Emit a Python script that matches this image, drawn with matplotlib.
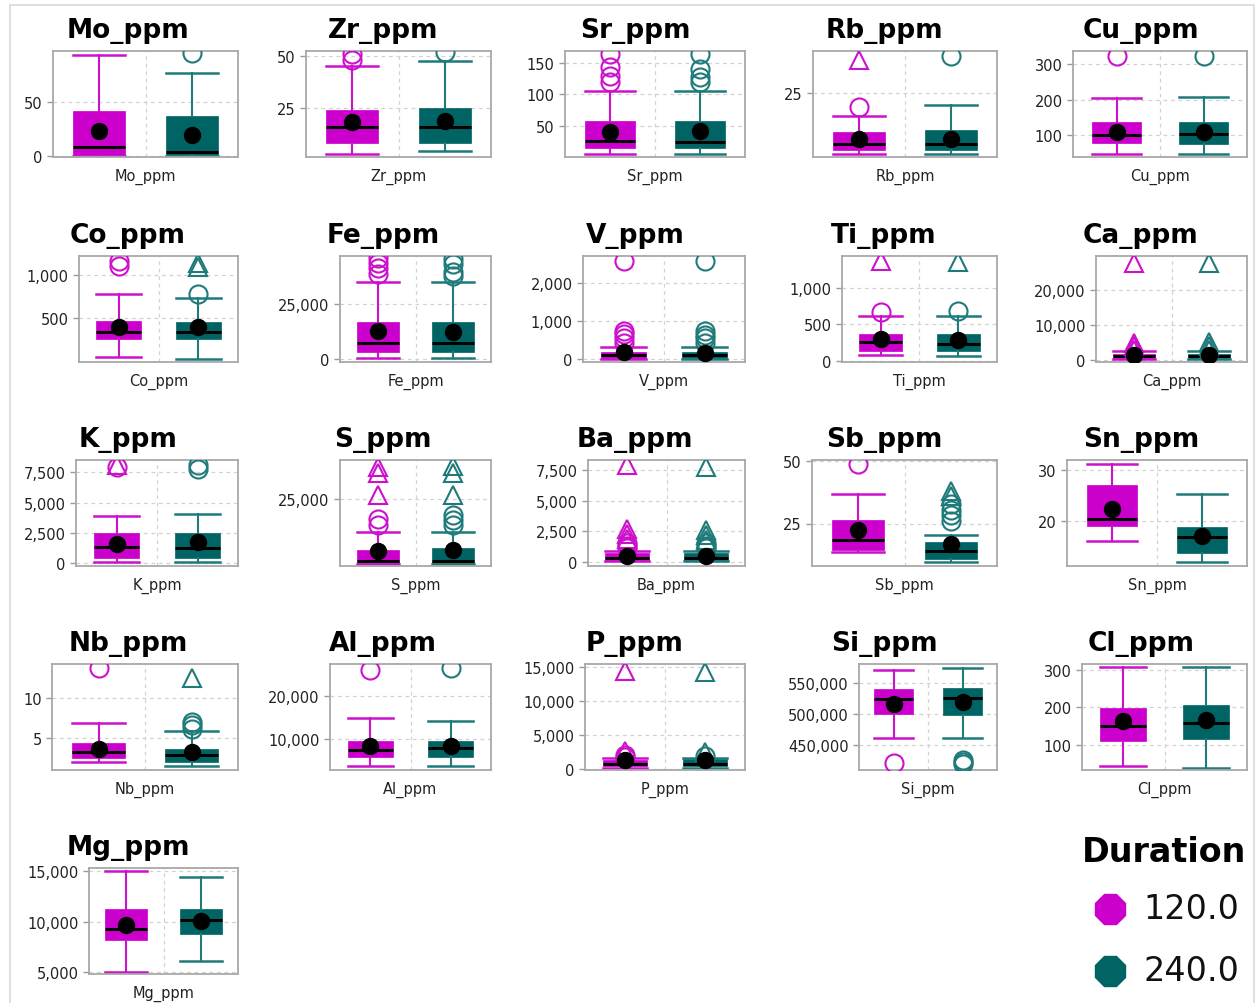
import numpy as np
import matplotlib
matplotlib.use('Agg')
import matplotlib.pyplot as plt
from matplotlib.ticker import FuncFormatter

W, H = 1258, 1004

ELEMENTS = ['Mo_ppm', 'Zr_ppm', 'Sr_ppm', 'Rb_ppm', 'Cu_ppm',
            'Co_ppm', 'Fe_ppm', 'V_ppm', 'Ti_ppm', 'Ca_ppm',
            'K_ppm', 'S_ppm', 'Ba_ppm', 'Sb_ppm', 'Sn_ppm',
            'Nb_ppm', 'Al_ppm', 'P_ppm', 'Si_ppm', 'Cl_ppm',
            'Mg_ppm']
DURATIONS = ['120.0', '240.0']

# box statistics, Duration = 120
LOW_120  = [0, 3.2, 5.3, 4.3, 47, 50, 600, 20, 80, 100, 140, 50, 20, 13.6, 16.1, 1.99, 3800, 100, 462000, 43, 5000]
Q1_120   = [0.5, 8.3, 14.3, 5.7, 78, 258, 3400, 40, 140, 400, 470, 400, 150, 14.4, 19.0, 2.5, 5700, 350, 501000, 111, 8230]
MED_120  = [8, 15.9, 25.9, 7.7, 100, 340, 7400, 110, 260, 900, 1360, 900, 320, 18.3, 20.4, 3.25, 7500, 700, 524000, 151, 9330]
Q3_120   = [42, 24.1, 56.7, 11.7, 136, 470, 16800, 195, 365, 1700, 2520, 5400, 725, 26.6, 27.1, 4.45, 9550, 1300, 541000, 197, 11230]
HIGH_120 = [94, 45.6, 105.9, 17, 203, 780, 35000, 330, 620, 2600, 3900, 12200, 850, 37, 31.2, 6.9, 14900, 1500, 572000, 308, 15000]
MEAN_120 = [23, 18.5, 39.7, 9.3, 108, 400, 12700, 180, 295, 1200, 1580, 5000, 510, 22.3, 22.4, 3.65, 8250, 1200, 517000, 162, 9660]

# box statistics, Duration = 240
LOW_240  = [0, 4.5, 5.3, 4.3, 47, 25, 600, 20, 65, 100, 140, 50, 20, 9.7, 11.8, 1.5, 3800, 100, 462000, 38, 6100]
Q1_240   = [0.5, 8.3, 14.3, 5.7, 75, 258, 3400, 40, 140, 400, 420, 400, 150, 10.9, 13.7, 2.0, 5800, 350, 499000, 116, 8830]
MED_240  = [4, 15.9, 23.3, 7.7, 103, 340, 7400, 110, 235, 900, 1250, 900, 320, 14.2, 16.9, 2.85, 7900, 700, 526000, 157, 10160]
Q3_240   = [37, 25, 56.7, 12.3, 136, 457, 16800, 190, 365, 1700, 2520, 6000, 725, 17.5, 18.8, 3.6, 9550, 1400, 543000, 205, 11230]
HIGH_240 = [77, 48, 105.9, 20.7, 206, 727, 35000, 330, 620, 2600, 4040, 12200, 850, 20.4, 25.3, 5.9, 14100, 1600, 574000, 308, 14460]
MEAN_240 = [20, 18.8, 40.7, 9.3, 108, 400, 12500, 175, 290, 1200, 1720, 5400, 510, 16.8, 17.1, 3.2, 8350, 1200, 520000, 165, 10060]

# outliers (open circles / open triangles)
CIRC_120 = {'Zr_ppm': [48.3, 51.2], 'Sr_ppm': [120, 129.7, 144, 165], 'Rb_ppm': [20],
            'Cu_ppm': [322], 'Co_ppm': [1100, 1160], 'Fe_ppm': [38700, 41200, 43400, 45700],
            'V_ppm': [420, 560, 650, 740, 2570], 'Ti_ppm': [670], 'K_ppm': [7900],
            'S_ppm': [14900, 17400], 'Ba_ppm': [1100, 1300, 1500], 'Sb_ppm': [48.8],
            'Nb_ppm': [13.8], 'Al_ppm': [26000], 'P_ppm': [1700, 2000], 'Si_ppm': [422000]}
TRI_120 = {'Rb_ppm': [36], 'Ti_ppm': [1360], 'Ca_ppm': [2800, 3800, 4800, 28000],
           'K_ppm': [8100], 'S_ppm': [26500, 34800, 37300],
           'Ba_ppm': [1900, 2300, 2700, 7900], 'P_ppm': [2600, 14350]}
CIRC_240 = {'Mo_ppm': [96], 'Zr_ppm': [52], 'Sr_ppm': [120, 128, 139.7, 165], 'Rb_ppm': [37.2],
            'Cu_ppm': [322], 'Co_ppm': [780], 'Fe_ppm': [37800, 39500, 43000, 45500],
            'V_ppm': [430, 560, 640, 730, 2580], 'Ti_ppm': [680], 'K_ppm': [7800, 8100],
            'S_ppm': [14900, 16800, 18800], 'Ba_ppm': [1100, 1300, 1500],
            'Sb_ppm': [25.9, 28.5, 30.6, 32.8], 'Nb_ppm': [6.2, 6.6, 7.0],
            'Al_ppm': [26500], 'P_ppm': [1900], 'Si_ppm': [420000, 423000, 426000]}
TRI_240 = {'Co_ppm': [1090, 1140], 'Ti_ppm': [1350], 'Ca_ppm': [2900, 3900, 5200, 27800],
           'S_ppm': [26500, 35000, 37700], 'Ba_ppm': [1800, 2200, 2600, 7800],
           'Sb_ppm': [35.9, 38.0], 'Nb_ppm': [12.6], 'P_ppm': [2500, 14200]}

# axis ranges and ticks per panel
Y_LIM = [(-1, 98), (1.6, 52.6), (0, 169), (3.3, 39), (39, 336),
         (-8, 1215), (-1200, 46700), (-70, 2700), (-15, 1435), (-700, 29900),
         (-220, 8500), (-870, 40000), (-350, 8350), (8, 50.4), (11.1, 32),
         (1.0, 14.3), (2750, 27500), (-200, 15400), (410000, 581000), (32, 316),
         (4830, 15330)]
Y_TICKS = [[0, 50], [25, 50], [50, 100, 150], [25], [100, 200, 300],
           [500, 1000], [0, 25000], [0, 1000, 2000], [0, 500, 1000], [0, 10000, 20000],
           [0, 2500, 5000, 7500], [25000], [0, 2500, 5000, 7500], [25, 50], [20, 30],
           [5, 10], [10000, 20000], [0, 5000, 10000, 15000], [450000, 500000, 550000], [100, 200, 300],
           [5000, 10000, 15000]]

# panel frames in pixels
FRAME_LEFT = [53, 306, 565, 813, 1073,
              79, 340, 583, 842, 1096,
              76, 340, 588, 812, 1067,
              52, 330, 585, 859, 1082,
              89]
COL_RIGHT = [238, 491, 745, 997, 1247]
ROW_TOP = [52, 257, 461, 665, 869]
FRAME_H = 106
TITLE_X = [128, 383, 635, 884, 1141]

BOX_COL = ['#cc00cc', '#006464']
LINE_COL = ['#cc11cc', '#1f7a7a']
GRID_COL = '#d2d2d2'


def px_rect(left, right, top, bottom):
    return [left / W, 1 - bottom / H, (right - left) / W, (bottom - top) / H]


fig = plt.figure(figsize=(W / 100, H / 100), dpi=100)
fig.patch.set_facecolor('white')

# pixel-space overlay for titles, labels and the legend
ov = fig.add_axes([0, 0, 1, 1])
ov.set_xlim(0, W)
ov.set_ylim(H, 0)
ov.axis('off')
ov.plot([10, 1254, 1254], [6, 6, H], color='#d9d9d9', lw=1.2)
ov.plot([10, 10], [6, H], color='#d9d9d9', lw=1.2)

fmt = FuncFormatter(lambda v, p: f'{v:,.0f}')

for i, el in enumerate(ELEMENTS):
    row, col = divmod(i, 5)
    top = ROW_TOP[row]
    bottom = top + FRAME_H
    left = FRAME_LEFT[i]
    right = COL_RIGHT[col]
    ax = fig.add_axes(px_rect(left, right, top, bottom))

    stats = [dict(whislo=LOW_120[i], q1=Q1_120[i], med=MED_120[i], q3=Q3_120[i], whishi=HIGH_120[i], fliers=[]),
             dict(whislo=LOW_240[i], q1=Q1_240[i], med=MED_240[i], q3=Q3_240[i], whishi=HIGH_240[i], fliers=[])]
    for k, st in enumerate(stats):
        ax.bxp([st], positions=[k + 1], widths=0.56, capwidths=0.56, patch_artist=True,
               showfliers=False,
               boxprops=dict(facecolor=BOX_COL[k], edgecolor=BOX_COL[k], lw=0.5),
               whiskerprops=dict(color=LINE_COL[k], lw=1.5),
               capprops=dict(color=LINE_COL[k], lw=1.8),
               medianprops=dict(color='black', lw=2.2))

    for k, (circ, tri) in enumerate([(CIRC_120, TRI_120), (CIRC_240, TRI_240)]):
        yc = circ.get(el, [])
        yt = tri.get(el, [])
        ax.plot([k + 1] * len(yc), yc, ls='none', marker='o', ms=13, mfc='none',
                mec=LINE_COL[k], mew=1.5, zorder=4)
        ax.plot([k + 1] * len(yt), yt, ls='none', marker='^', ms=13, mfc='none',
                mec=LINE_COL[k], mew=1.5, zorder=4)

    ax.plot([1, 2], [MEAN_120[i], MEAN_240[i]], ls='none', marker='o', ms=11.5,
            color='black', zorder=6)

    ax.set_xlim(0.5, 2.5)
    ax.set_ylim(*Y_LIM[i])
    ax.set_xticks([])
    ax.set_yticks(Y_TICKS[i])
    ax.yaxis.set_major_formatter(fmt)
    ax.tick_params(axis='y', labelsize=10.5, colors='#9a9a9a', labelcolor='#222222', length=4, width=1)
    ax.yaxis.grid(True, ls=(0, (3, 3)), color=GRID_COL, lw=0.9)
    ax.axvline(1.5, ls=(0, (3, 3)), color=GRID_COL, lw=0.9, zorder=0)
    ax.set_axisbelow(True)
    for sp in ax.spines.values():
        sp.set_color('#a8a8a8')
        sp.set_linewidth(1.3)

    ov.text(TITLE_X[col], top - 14, el, fontsize=19, fontweight='bold', ha='center', va='baseline')
    ov.text((left + right) / 2, bottom + 19, el, fontsize=10.5, ha='center', va='center', color='#222222')

# legend
ov.text(1164, 853, 'Duration', fontsize=24, fontweight='bold', ha='center', va='center')
for k, (lab, yy) in enumerate(zip(DURATIONS, [910, 972])):
    ov.plot([1110], [yy], marker='8', ms=24, color=BOX_COL[k], ls='none')
    ov.text(1143, yy, lab, fontsize=24, ha='left', va='center', color='#111111')

fig.savefig('out.png', dpi=100)
